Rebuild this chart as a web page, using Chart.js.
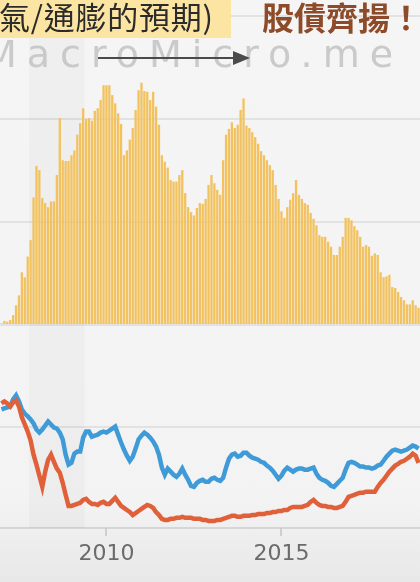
<!DOCTYPE html>
<html>
<head>
<meta charset="utf-8">
<script src="https://cdn.jsdelivr.net/npm/chart.js@4.4.1/dist/chart.umd.min.js"></script>
<style>
    html, body { margin: 0; padding: 0; }
    body {
        width: 420px; height: 582px; overflow: hidden;
        background: linear-gradient(#f5f5f5 0%, #f3f3f3 86%, #e8e8e8 100%);
    }
    #wrap { position: relative; width: 420px; height: 582px; }
    #chart, #overlay { position: absolute; left: 0; top: 0; }
</style>
</head>
<body>
<div id="wrap">
    <canvas id="chart" width="420" height="582"></canvas>
    <svg id="overlay" width="420" height="582">
        <rect x="0" y="0" width="231" height="38" fill="#fce4a2"/>
        <text x="-1" y="29" font-family="Noto Sans CJK TC" font-size="31" fill="#2b2b2b" textLength="214" lengthAdjust="spacing">氣/通膨的預期)</text>
        <text x="262" y="30" font-family="Noto Sans CJK TC" font-size="32" font-weight="bold" fill="#8d4b2a">股債齊揚！</text>
        <text x="-16" y="67" font-family="DejaVu Sans" font-size="38" letter-spacing="10" fill="#c2c2c2" fill-opacity="0.85">MacroMicro.me</text>
        <line x1="98" y1="58" x2="236" y2="58" stroke="#4b4b4b" stroke-width="2"/>
        <polygon points="233,51 250,58 233,65" fill="#4b4b4b"/>
    </svg>
</div>
<script>
// Periode bulanan Jan 2007 - Des 2018
var FIRST_YEAR = 2007;
var LAST_YEAR = 2018;
var MONTHS = [];
for (var y = FIRST_YEAR; y <= LAST_YEAR; y++) {
    for (var m = 1; m <= 12; m++) {
        MONTHS.push(y + '-' + (m < 10 ? '0' : '') + m);
    }
}

// Tahun yang diberi label di sumbu X
var TICK_YEARS = ['2010', '2015'];

// Pita resesi (abu-abu)
var RECESSION = ['2007-11', '2009-05'];

// Selisih 10Y - 2Y (%), batang kuning
var SPREAD = [
    0.02, 0.05, 0.04, 0.06, 0.12, 0.24, 0.36, 0.64, 0.58, 0.83, 1.03, 1.55,
    1.93, 1.88, 1.54, 1.48, 1.43, 1.50, 1.50, 1.82, 2.51, 2.00,
    1.99, 1.99, 2.06, 2.12, 2.31, 2.45, 2.63, 2.50, 2.51, 2.48,
    2.60, 2.63, 2.73, 2.91, 2.91, 2.91, 2.79, 2.69, 2.57, 2.44,
    2.06, 2.12, 2.25, 2.39, 2.61, 2.85, 2.94, 2.84, 2.83, 2.73,
    2.83, 2.65, 2.43, 2.06, 1.98, 1.91, 1.76, 1.74, 1.74, 1.82,
    1.88, 1.60, 1.43, 1.37, 1.33, 1.42, 1.48, 1.47, 1.53, 1.70,
    1.82, 1.72, 1.64, 1.58, 2.00, 2.31, 2.38, 2.46, 2.39, 2.43,
    2.61, 2.75, 2.42, 2.39, 2.34, 2.28, 2.20, 2.11, 2.06, 2.00,
    1.94, 1.88, 1.70, 1.53, 1.38, 1.30, 1.43, 1.52, 1.60, 1.76,
    1.58, 1.53, 1.48, 1.46, 1.36, 1.29, 1.21, 1.09, 1.07, 1.07,
    1.01, 0.95, 0.85, 0.85, 0.95, 1.07, 1.30, 1.30, 1.27, 1.20,
    1.15, 1.07, 0.95, 0.97, 0.95, 0.84, 0.87, 0.85, 0.64, 0.58,
    0.59, 0.61, 0.46, 0.45, 0.40, 0.34, 0.30, 0.25, 0.25, 0.30,
    0.24, 0.21
];

// Imbal hasil 10 tahun (%), garis biru
var US10Y = [
    4.67, 4.71, 4.75, 4.79, 5.07, 5.23, 4.99, 4.67, 4.51, 4.40, 4.28, 4.12,
    3.88, 3.76, 3.88, 4.04, 4.20, 4.08, 3.96, 3.92, 3.76, 3.49, 2.89, 2.50,
    2.57, 2.93, 3.01, 3.01, 3.56, 3.80, 3.80, 3.60, 3.64, 3.68, 3.76, 3.80,
    3.76, 3.84, 3.92, 4.00, 3.68, 3.37, 3.09, 2.85, 2.65, 2.81, 3.13, 3.49,
    3.64, 3.76, 3.68, 3.56, 3.41, 3.21, 2.89, 2.38, 2.10, 2.34, 2.22, 2.10,
    2.02, 2.14, 2.34, 2.10, 1.90, 1.66, 1.62, 1.78, 1.86, 1.90, 1.82, 1.82,
    1.94, 1.98, 1.90, 1.86, 1.98, 2.38, 2.73, 2.89, 2.93, 2.81, 2.85, 2.97,
    2.97, 2.85, 2.77, 2.73, 2.69, 2.61, 2.57, 2.46, 2.38, 2.26, 2.10, 1.94,
    2.06, 2.26, 2.38, 2.30, 2.22, 2.30, 2.34, 2.34, 2.30, 2.30, 2.34, 2.38,
    2.14, 1.98, 1.90, 1.86, 1.78, 1.66, 1.62, 1.74, 1.86, 1.98, 2.30, 2.57,
    2.61, 2.57, 2.50, 2.42, 2.42, 2.38, 2.38, 2.34, 2.38, 2.46, 2.50, 2.65,
    2.81, 2.93, 3.05, 3.09, 3.05, 3.01, 3.05, 3.09, 3.17, 3.25, 3.21, 3.13
];

// Imbal hasil 2 tahun (%), garis merah
var US2Y = [
    4.91, 4.99, 4.91, 4.79, 4.95, 5.03, 4.79, 4.36, 4.08, 3.80, 3.45, 2.89,
    2.50, 2.06, 1.62, 2.22, 2.69, 2.89, 2.61, 2.34, 2.18, 1.78, 1.31, 0.87,
    0.87, 0.91, 0.95, 0.99, 1.11, 1.15, 1.03, 0.95, 0.95, 0.91, 0.99, 1.03,
    0.95, 0.95, 1.07, 1.19, 1.03, 0.87, 0.79, 0.71, 0.63, 0.51, 0.59, 0.67,
    0.75, 0.83, 0.91, 0.87, 0.79, 0.63, 0.51, 0.36, 0.32, 0.32, 0.36, 0.36,
    0.40, 0.40, 0.44, 0.40, 0.40, 0.40, 0.36, 0.36, 0.36, 0.32, 0.32, 0.28,
    0.28, 0.28, 0.32, 0.32, 0.36, 0.40, 0.44, 0.48, 0.48, 0.44, 0.44, 0.48,
    0.48, 0.48, 0.51, 0.51, 0.55, 0.55, 0.55, 0.59, 0.59, 0.63, 0.63, 0.67,
    0.67, 0.71, 0.71, 0.79, 0.83, 0.83, 0.83, 0.83, 0.87, 0.91, 1.03, 1.11,
    0.99, 0.91, 0.87, 0.87, 0.83, 0.83, 0.79, 0.79, 0.83, 0.87, 1.03, 1.23,
    1.27, 1.31, 1.35, 1.39, 1.39, 1.43, 1.43, 1.43, 1.43, 1.62, 1.78, 1.90,
    2.06, 2.22, 2.34, 2.46, 2.53, 2.61, 2.65, 2.73, 2.81, 2.93, 2.85, 2.57
];

// Cek apakah indeks bulan ini dapat label tahun
function isYearTick(index) {
    var label = MONTHS[index];
    if (!label) return false;
    return label.slice(5) === '01' && TICK_YEARS.indexOf(label.slice(0, 4)) >= 0;
}

// Plugin pita resesi di belakang data + garis tick tahun
var recessionBand = {
    id: 'recessionBand',
    beforeDatasetsDraw: function (chart) {
        var ctx = chart.ctx;
        var xScale = chart.scales.x;
        var half = xScale.width / MONTHS.length / 2;
        var x0 = xScale.getPixelForValue(MONTHS.indexOf(RECESSION[0])) - half;
        var x1 = xScale.getPixelForValue(MONTHS.indexOf(RECESSION[1])) + half;
        ctx.save();
        ctx.fillStyle = 'rgba(0,0,0,0.025)';
        ctx.fillRect(x0, 0, x1 - x0, chart.chartArea.bottom);
        ctx.restore();
    },
    afterDraw: function (chart) {
        var ctx = chart.ctx;
        var xScale = chart.scales.x;
        var bottom = chart.chartArea.bottom;
        ctx.save();
        ctx.strokeStyle = '#c4c4c4';
        ctx.lineWidth = 1.5;
        MONTHS.forEach(function (label, i) {
            if (!isYearTick(i)) return;
            var px = Math.round(xScale.getPixelForValue(i));
            ctx.beginPath();
            ctx.moveTo(px, bottom);
            ctx.lineTo(px, bottom + 8);
            ctx.stroke();
        });
        ctx.restore();
    }
};

var gridStyle = { color: '#e2e2e2', lineWidth: 2, drawTicks: false };

new Chart(document.getElementById('chart').getContext('2d'), {
    data: {
        labels: MONTHS,
        datasets: [
            {
                type: 'bar',
                label: '10Y-2Y',
                data: SPREAD,
                yAxisID: 'ySpread',
                backgroundColor: '#f3c260',
                barPercentage: 0.8,
                categoryPercentage: 1
            },
            {
                type: 'line',
                label: '2Y',
                data: US2Y,
                yAxisID: 'yRate',
                borderColor: '#e0603a',
                borderWidth: 4.5,
                pointRadius: 0,
                tension: 0
            },
            {
                type: 'line',
                label: '10Y',
                data: US10Y,
                yAxisID: 'yRate',
                borderColor: '#3f9bd8',
                borderWidth: 4.5,
                pointRadius: 0,
                tension: 0
            }
        ]
    },
    options: {
        responsive: false,
        animation: false,
        layout: { padding: { top: 16, left: 0, right: 0, bottom: 0 } },
        plugins: {
            legend: { display: false },
            tooltip: { enabled: false }
        },
        scales: {
            x: {
                type: 'category',
                offset: true,
                grid: { display: false },
                border: { display: true, color: '#d6d6d6', width: 2 },
                ticks: {
                    autoSkip: false,
                    maxRotation: 0,
                    padding: 5,
                    color: '#6b6b6b',
                    font: { family: 'DejaVu Sans', size: 22 },
                    callback: function (value, index) {
                        return isYearTick(index) ? MONTHS[index].slice(0, 4) : null;
                    }
                },
                afterFit: function (scale) { scale.height = 54; }
            },
            ySpread: {
                position: 'left',
                stack: 'panels',
                stackWeight: 309,
                weight: 1,
                min: 0,
                max: 3.75,
                ticks: { display: false, stepSize: 1.25 },
                grid: gridStyle,
                border: { display: false }
            },
            yRate: {
                position: 'left',
                stack: 'panels',
                stackWeight: 203,
                weight: 0,
                min: 0,
                max: 8,
                ticks: { display: false, stepSize: 4 },
                grid: gridStyle,
                border: { display: false }
            }
        }
    },
    plugins: [recessionBand]
});
</script>
</body>
</html>
